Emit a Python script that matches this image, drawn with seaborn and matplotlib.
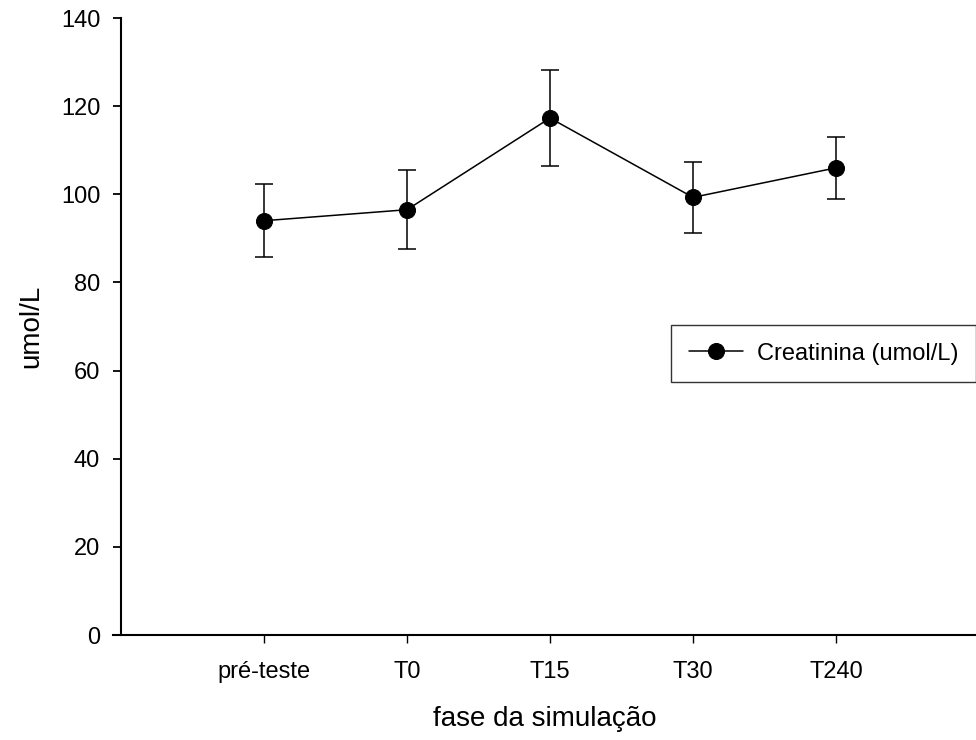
import matplotlib
matplotlib.use("Agg")
import matplotlib.pyplot as plt
import seaborn as sns
import pandas as pd

phases = ["pré-teste", "T0", "T15", "T30", "T240"]
creatinina = [94.0, 96.5, 117.3, 99.3, 106.0]
err_upper = [102.3, 105.4, 128.2, 107.4, 113.0]
err_lower = [85.7, 87.6, 106.4, 91.3, 98.9]

sns.set_theme(style="white")
plt.rcParams["font.family"] = ["Liberation Sans", "DejaVu Sans"]
plt.rcParams["text.color"] = "black"
plt.rcParams["axes.labelcolor"] = "black"
plt.rcParams["xtick.color"] = "black"
plt.rcParams["ytick.color"] = "black"

fig = plt.figure(figsize=(9.76, 7.4), dpi=100)
W, H = 976, 740
ax_left_px, ax_right_px, ax_top_px, ax_bot_px = 113, 976, 18, 635
ax = fig.add_axes([ax_left_px / W, 1 - ax_bot_px / H,
                   (ax_right_px - ax_left_px) / W, (ax_bot_px - ax_top_px) / H])

df = pd.DataFrame({"fase": phases, "valor": creatinina})
x = list(range(len(phases)))
yerr = [[v - lo for v, lo in zip(creatinina, err_lower)],
        [hi - v for v, hi in zip(creatinina, err_upper)]]
ax.errorbar(x, creatinina, yerr=yerr, fmt="none", ecolor="black",
            elinewidth=1.1, capsize=6.5, capthick=1.1, zorder=2)
sns.lineplot(data=df, x=x, y="valor", color="black", marker="o",
             markersize=11.5, markeredgecolor="black", linewidth=1.1,
             label="Creatinina (umol/L)", ax=ax, zorder=3, sort=False)

unit = 143.0
ax.set_xlim((ax_left_px - 264) / unit, (ax_right_px - 264) / unit)
ax.set_ylim(0, 140)
ax.set_xticks(x)
ax.set_xticklabels(phases)
ax.set_yticks(range(0, 141, 20))

for s in ["top", "right"]:
    ax.spines[s].set_visible(False)
ax.spines["left"].set_position(("data", (121 - 264) / unit))
for s in ["left", "bottom"]:
    ax.spines[s].set_color("black")
    ax.spines[s].set_linewidth(1.5)

ax.tick_params(axis="y", direction="out", length=6, width=1.3, color="black",
               labelcolor="black", labelsize=17, pad=9, left=True)
ax.tick_params(axis="x", direction="out", length=6, width=1.0, color="black",
               labelcolor="black", labelsize=17, pad=13, bottom=True)

ax.set_xlabel("fase da simulação", fontsize=20, labelpad=16, color="black")
ax.set_ylabel("umol/L", fontsize=20, labelpad=12, color="black")

leg = ax.legend(loc="upper left", bbox_to_anchor=(671 / W, 1 - 325 / H),
                bbox_transform=fig.transFigure, borderaxespad=0,
                frameon=True, fancybox=False, fontsize=17,
                handlelength=2.3, handletextpad=0.6, borderpad=0.75)
leg.get_frame().set_edgecolor("black")
leg.get_frame().set_linewidth(1.0)
for t in leg.get_texts():
    t.set_color("black")

fig.savefig("out.png", dpi=100)
